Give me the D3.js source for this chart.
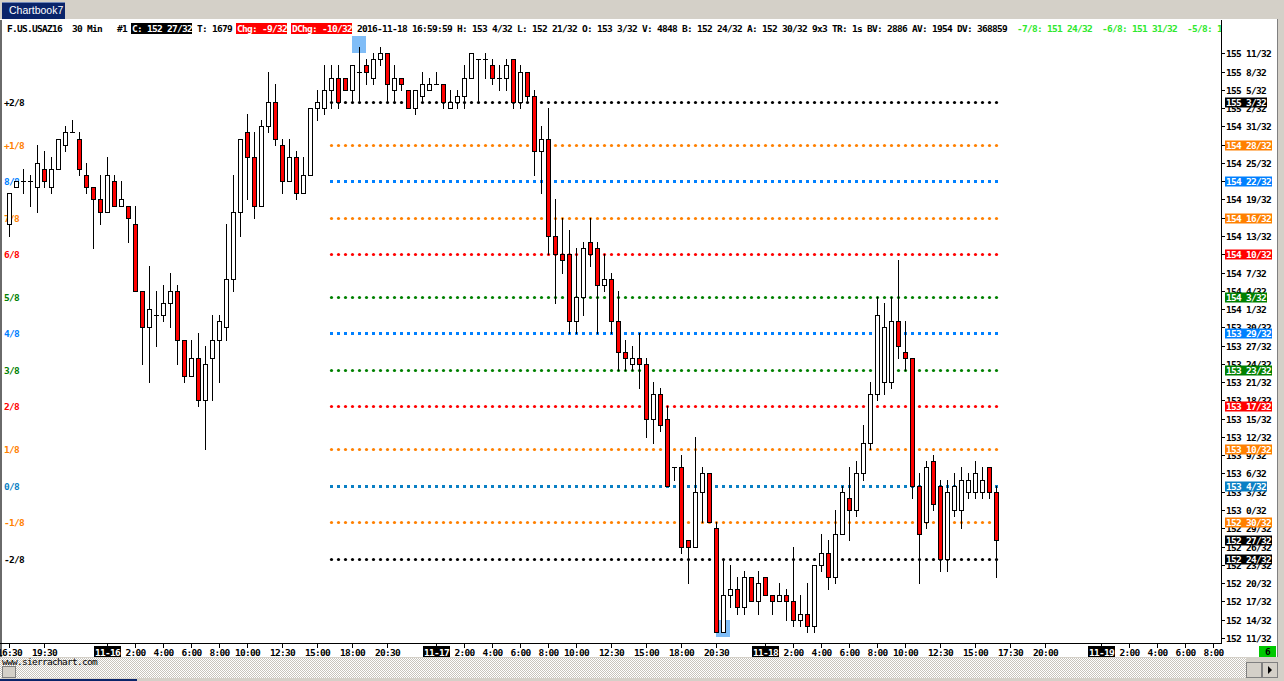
<!DOCTYPE html>
<html><head><meta charset="utf-8">
<script src="https://cdn.jsdelivr.net/npm/d3@7"></script>
<style>
html,body{margin:0;padding:0;background:#fff;overflow:hidden}
svg{display:block}
.mono{font-family:"DejaVu Sans Mono",monospace;font-size:9.5px;letter-spacing:-0.72px;font-weight:bold}
</style></head><body>
<svg id="c" width="1284" height="681"></svg>
<script>
// Prices are stored in 32nds of a point above BASE (e.g. 27 -> 152 27/32)
const BASE = 152;
const open32 = [79,85,86,86,85,88,85,88,92,94, 93,87,85,83,81,86,82,82,79,68, 62,64,64,66,68,60,54,57,50,57,
 60,62,70,81,94,90,82,95,99,92, 86,90,84,87,98,98,101,103,103,101, 104,105,103,106,107,101,103,101,98,100,
 101,102,102,98,99,100,103,106,106,105, 103,103,106,99,104,100,91,93,77,74, 74,63,67,76,75,69,70,63,58,56,
 57,56,47,51,47,39,39,27,26,35, 38,29,12,18,19,16,21,17,21,18, 17,18,17,14,15,13,23,25,21,28,
 34,32,38,43,51,53,53,63,58,57, 36,30,40,36,24,32,32,35,35,35, 39,35];
const high32 = [84,86,88,87,92,91,90,93,95,96, 94,89,85,87,90,87,86,82,82,68, 72,68,69,71,69,60,60,61,59,64,
 64,79,87,93,97,94,96,104,102,93, 93,91,90,98,101,105,105,105,103,105, 108,106,107,108,107,105,103,101,101,104,
 103,104,102,101,101,105,107,106,107,106, 105,106,106,105,104,101,95,98,83,80, 78,75,76,80,76,74,71,68,60,59,
 61,57,53,52,49,39,41,27,44,39, 38,30,24,23,21,22,21,22,21,18, 20,19,26,18,20,23,28,27,32,36,
 39,40,46,53,67,66,67,73,63,57, 38,40,41,37,37,38,39,38,40,39, 39,36];
const low32 = [77,85,84,82,81,85,84,88,91,94, 87,84,75,79,81,82,82,76,68,56, 53,59,63,62,56,53,54,49,42,50,
 53,60,68,77,83,80,82,94,92,84, 86,83,84,87,96,97,98,98,101,99, 99,102,102,105,99,99,101,98,97,99,
 101,102,98,98,98,98,103,99,103,102, 101,101,98,98,99,87,84,74,66,71, 61,61,64,72,61,68,61,55,55,55,
 52,44,43,45,36,37,25,20,26,30, 30,12,12,16,15,15,17,15,18,15, 17,14,13,13,12,12,22,19,20,28,
 27,31,37,42,50,51,52,57,55,34, 20,29,32,22,22,31,29,34,34,34, 34,21];
const close32 = [84,86,86,86,89,86,88,93,94,94, 88,85,83,81,87,82,83,80,68,62, 65,64,66,68,60,54,57,50,56,60,
 63,70,81,93,90,82,95,99,93,86, 90,84,87,98,99,101,103,99,101,105, 104,104,106,107,102,103,102,98,101,102,
 102,102,99,99,100,103,107,106,106,103, 103,105,99,104,100,91,93,77,74,73, 63,67,75,74,69,70,63,58,57,57,
 56,47,51,46,36,39,26,26,35,38, 30,12,18,19,16,21,17,20,18,17, 18,17,14,15,13,23,25,21,28,35,
 32,38,43,51,64,62,63,59,57,36, 28,39,33,24,35,36,37,37,38,37, 35,27];

// Murrey math levels
const levelNames = ["+2/8","+1/8","8/8","7/8","6/8","5/8","4/8","3/8","2/8","1/8","0/8","-1/8","-2/8"];
const level32 = [99,92,86,80,74,67,61,55,49,42,36,30,24];
const levelColors = ["#000000","#ff8000","#0080ff","#ff8000","#ff0000","#008000","#0080ff","#008000","#ff0000","#ff8000","#0a7fc4","#ff8000","#000000"];
const levelFromBar = 46;

// price axis ticks (32nds above BASE)
const priceTicks32 = [107,104,101,98,95,92,89,86,83,80,77,74,71,68,65,62,59,56,53,50,47,44,41,38,35,32,29,26,23,20,17,14,11];

// time axis labels and the bar slot they sit on
const timeLabels = ["16:30","19:30","11-16","2:00","4:00","6:00","8:00","10:00","12:30","15:00","18:00","20:30",
 "11-17","2:00","4:00","6:00","8:00","10:00","12:30","15:00","18:00","20:30",
 "11-18","2:00","4:00","6:00","8:00","10:00","12:30","15:00","17:30","20:00",
 "11-19","2:00","4:00","6:00","8:00"];
const timeSlots = [0,5,14,18,22,26,30,34,39,44,49,54, 61,65,69,73,77,81,86,91,96,101, 108,112,116,120,124,128,133,138,143,148, 156,160,164,168,172];

// high / low markers (bar index)
const highMarkBar = 50, lowMarkBar = 102;

// header fields
const headerFields = [
 {t:"F.US.USAZ16  30 Min   #1 ", k:"plain"},
 {t:"C: 152 27/32", k:"black"},
 {t:" T: 1679 ", k:"plain"},
 {t:"Chg: -9/32", k:"red"},
 {t:" ", k:"plain"},
 {t:"DChg: -10/32", k:"red"},
 {t:" 2016-11-18 16:59:59 H: 153 4/32 L: 152 21/32 O: 153 3/32 V: 4848 B: 152 24/32 A: 152 30/32 9x3 TR: 1s BV: 2886 AV: 1954 DV: 368859  ", k:"plain"},
 {t:"-7/8: 151 24/32  -6/8: 151 31/32  -5/8: 152 6/32", k:"green"}
];

const svg = d3.select("#c");
const W = 1284, H = 681;
const CH = 5.0; // monospace advance

const fmt32 = v => `${BASE + Math.floor(v/32)} ${v % 32}/32`;
const toPrice = v => BASE + v/32;

const x = d3.scaleLinear().domain([0, 172]).range([9.33, 1213.33]);
const y = d3.scaleLinear().domain([toPrice(11), toPrice(107)]).range([637.9, 53.3]);
const px = i => Math.round(x(i));
const py = v => Math.round(y(toPrice(v)));

// defs
const defs = svg.append("defs");
const pat = defs.append("pattern").attr("id","hatch").attr("width",2).attr("height",2).attr("patternUnits","userSpaceOnUse");
pat.append("rect").attr("width",2).attr("height",2).attr("fill","#ffffff");
pat.append("rect").attr("width",1).attr("height",1).attr("fill","#c8c4bc");
pat.append("rect").attr("x",1).attr("y",1).attr("width",1).attr("height",1).attr("fill","#c8c4bc");
defs.append("clipPath").attr("id","hclip").append("rect").attr("x",0).attr("y",20).attr("width",1221).attr("height",20);

// backgrounds
svg.append("rect").attr("width",W).attr("height",H).attr("fill","#ffffff");
svg.append("rect").attr("x",0).attr("y",0).attr("width",W).attr("height",19).attr("fill","#d4d0c8");
svg.append("line").attr("x1",0).attr("x2",W).attr("y1",19.5).attr("y2",19.5).attr("stroke","#ffffff");
svg.append("rect").attr("x",0).attr("y",657).attr("width",W).attr("height",24).attr("fill","#d4d0c8");
svg.append("rect").attr("x",0).attr("y",658).attr("width",1246).attr("height",20).attr("fill","url(#hatch)");
svg.append("rect").attr("x",1277).attr("y",19).attr("width",7).attr("height",H-19).attr("fill","#d4d0c8");
svg.append("line").attr("x1",1277.5).attr("x2",1277.5).attr("y1",19).attr("y2",657).attr("stroke","#808080");
svg.append("rect").attr("x",0).attr("y",20).attr("width",2).attr("height",637).attr("fill","#6a6a6a");
svg.append("rect").attr("x",0).attr("y",679).attr("width",137).attr("height",2).attr("fill","#0a246a");

// tab
svg.append("rect").attr("x",2).attr("y",2).attr("width",63).attr("height",17).attr("fill","#0a246a");
svg.append("line").attr("x1",2).attr("x2",65).attr("y1",2.5).attr("y2",2.5).attr("stroke","#6f86b8");
svg.append("text").attr("x",9).attr("y",14).attr("fill","#ffffff")
  .style("font-family","'Liberation Sans',Arial,sans-serif").style("font-size","10.5px").text("Chartbook7");

// levels (dotted)
const lvG = svg.append("g");
const barsForLevels = d3.range(levelFromBar, open32.length);
level32.forEach((lv, k) => {
  const col = levelColors[k];
  const square = (levelNames[k]==="8/8"||levelNames[k]==="4/8"||levelNames[k]==="0/8");
  const g = lvG.append("g");
  if (square) {
    g.selectAll("rect").data(barsForLevels).join("rect")
      .attr("x", i => px(i)-1).attr("y", py(lv)-1).attr("width",3).attr("height",3).attr("fill",col);
  } else {
    g.selectAll("circle").data(barsForLevels).join("circle")
      .attr("cx", i => px(i)+0.5).attr("cy", py(lv)+0.5).attr("r",1.6).attr("fill",col);
  }
  // left label
  svg.append("text").attr("class","mono").attr("x",4).attr("y",py(lv)+0.5)
    .attr("dominant-baseline","central").attr("fill",col).text(levelNames[k]);
});

// markers
svg.append("rect").attr("x",px(highMarkBar)-7).attr("y",py(high32[highMarkBar])-11)
  .attr("width",14).attr("height",17).attr("fill","#80bdf7");
svg.append("rect").attr("x",px(lowMarkBar)-7).attr("y",py(low32[lowMarkBar])-12)
  .attr("width",14).attr("height",17).attr("fill","#80bdf7");

// candles
const bars = d3.range(open32.length);
const cg = svg.append("g");
cg.selectAll("line.w").data(bars).join("line").attr("class","w")
  .attr("x1", i => px(i)+0.5).attr("x2", i => px(i)+0.5)
  .attr("y1", i => py(high32[i])).attr("y2", i => py(low32[i])+1)
  .attr("stroke","#000").attr("stroke-width",1);
cg.selectAll("rect.b").data(bars.filter(i => open32[i] !== close32[i])).join("rect").attr("class","b")
  .attr("x", i => px(i)-2+0.5).attr("width",4)
  .attr("y", i => py(Math.max(open32[i],close32[i]))+0.5)
  .attr("height", i => Math.max(1, py(Math.min(open32[i],close32[i])) - py(Math.max(open32[i],close32[i]))))
  .attr("fill", i => close32[i] > open32[i] ? "#ffffff" : "#ff0000")
  .attr("stroke","#000").attr("stroke-width",1);
cg.selectAll("line.d").data(bars.filter(i => open32[i] === close32[i])).join("line").attr("class","d")
  .attr("x1", i => px(i)-2).attr("x2", i => px(i)+3)
  .attr("y1", i => py(open32[i])+0.5).attr("y2", i => py(open32[i])+0.5)
  .attr("stroke","#000");

// axes lines
svg.append("line").attr("x1",1221.5).attr("x2",1221.5).attr("y1",20).attr("y2",644).attr("stroke","#000");
svg.append("line").attr("x1",0).attr("x2",1222).attr("y1",643.5).attr("y2",643.5).attr("stroke","#000");

// price axis
const pa = svg.append("g");
priceTicks32.forEach(v => {
  const yy = py(v)+0.5;
  pa.append("line").attr("x1",1222).attr("x2",1225).attr("y1",yy).attr("y2",yy).attr("stroke","#000");
  pa.append("text").attr("class","mono").attr("x",1226).attr("y",yy).attr("dominant-baseline","central")
    .attr("fill","#000").text(fmt32(v));
});
// level boxes + last price
const boxes = level32.map((v,k) => ({v, c: levelColors[k]}));
boxes.push({v: close32[close32.length-1], c:"#000000"});
boxes.forEach(b => {
  const yy = py(b.v)+0.5;
  const t = fmt32(b.v);
  pa.append("rect").attr("x",1225).attr("y",yy-5).attr("width",t.length*CH+2).attr("height",10).attr("fill",b.c);
  pa.append("text").attr("class","mono").attr("x",1226).attr("y",yy).attr("dominant-baseline","central")
    .attr("fill","#ffffff").text(t);
});

// time axis
const ta = svg.append("g");
timeLabels.forEach((lab, k) => {
  const xx = px(timeSlots[k]) + 0.5;
  const isDate = lab.includes("-");
  ta.append("line").attr("x1",xx).attr("x2",xx).attr("y1",644).attr("y2",648).attr("stroke","#000");
  if (isDate) ta.append("rect").attr("x",xx-13.5).attr("y",646).attr("width",27).attr("height",11).attr("fill","#000");
  ta.append("text").attr("class","mono").attr("x",xx).attr("y",652).attr("text-anchor","middle")
    .attr("dominant-baseline","central").attr("fill", isDate ? "#fff" : "#000").text(lab);
});
// bar counter box
svg.append("rect").attr("x",1259).attr("y",646).attr("width",17).attr("height",11).attr("fill","#00c800");
svg.append("text").attr("class","mono").attr("x",1267.5).attr("y",651.5).attr("text-anchor","middle")
  .attr("dominant-baseline","central").attr("fill","#000").text("6");

// scroll area
svg.append("text").attr("class","mono").style("font-weight","normal").attr("x",2).attr("y",661.5)
  .attr("dominant-baseline","central").attr("fill","#000").text("www.sierrachart.com");
svg.append("rect").attr("x",2.5).attr("y",666.5).attr("width",13).attr("height",11).attr("fill","#d4d0c8").attr("stroke","#808080");
[1246,1262].forEach(bx => {
  svg.append("rect").attr("x",bx+0.5).attr("y",662.5).attr("width",15).attr("height",15).attr("fill","#d4d0c8").attr("stroke","#808080");
});
svg.append("path").attr("d","M1268,666 L1272,670 L1268,674 Z").attr("fill","#000");

// header
const hg = svg.append("g").attr("clip-path","url(#hclip)");
let cx = 7;
headerFields.forEach(f => {
  const w = f.t.length * CH;
  if (f.k === "black" || f.k === "red") {
    hg.append("rect").attr("x",cx-1).attr("y",23).attr("width",w+1).attr("height",11)
      .attr("fill", f.k === "black" ? "#000" : "#ff0000");
  }
  hg.append("text").attr("class","mono").attr("x",cx).attr("y",28.5).attr("dominant-baseline","central")
    .attr("fill", f.k === "plain" ? "#000" : (f.k === "green" ? "#2ee82e" : "#fff"))
    .style("white-space","pre").attr("xml:space","preserve").text(f.t);
  cx += w;
});
</script>
</body></html>
